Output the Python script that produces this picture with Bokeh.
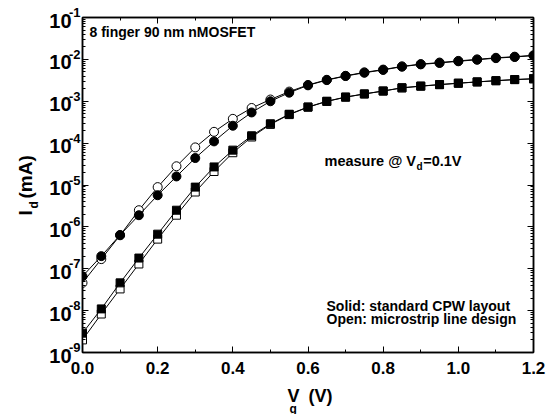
import numpy as np
from bokeh.plotting import figure
from bokeh.core.properties import value
from bokeh.models import (LinearAxis, LogAxis, FixedTicker, LogTicker, Label,
                          CustomJSTickFormatter, NumeralTickFormatter, ColumnDataSource)
from bokeh.embed import file_html
from bokeh.resources import INLINE

# ---------------- data ----------------
vg = [0.00, 0.05, 0.10, 0.15, 0.20, 0.25, 0.30, 0.35, 0.40, 0.45, 0.50, 0.55, 0.60,
      0.65, 0.70, 0.75, 0.80, 0.85, 0.90, 0.95, 1.00, 1.05, 1.10, 1.15, 1.20]

solid_circle = [6.6e-8, 2.0e-7, 6.4e-7, 1.9e-6, 5.7e-6, 1.6e-5, 4.4e-5, 1.1e-4, 2.6e-4,
                5.4e-4, 1.0e-3, 1.6e-3, 2.4e-3, 3.2e-3, 4.0e-3, 4.8e-3, 5.6e-3, 6.7e-3,
                7.6e-3, 8.2e-3, 9.0e-3, 9.8e-3, 1.07e-2, 1.14e-2, 1.23e-2]
open_circle = [4.6e-8, 1.7e-7, 6.3e-7, 2.5e-6, 8.9e-6, 2.8e-5, 7.9e-5, 1.86e-4, 3.8e-4,
               6.9e-4, 1.1e-3, 1.7e-3, 2.45e-3, 3.25e-3, 4.05e-3, 4.9e-3, 5.7e-3, 6.8e-3,
               7.7e-3, 8.4e-3, 9.2e-3, 1.0e-2, 1.09e-2, 1.16e-2, 1.25e-2]
solid_square = [2.9e-9, 1.1e-8, 4.6e-8, 1.8e-7, 6.7e-7, 2.5e-6, 8.9e-6, 2.7e-5, 6.8e-5,
                1.5e-4, 2.9e-4, 4.9e-4, 7.3e-4, 1.0e-3, 1.26e-3, 1.5e-3, 1.76e-3, 2.1e-3,
                2.3e-3, 2.5e-3, 2.7e-3, 2.9e-3, 3.1e-3, 3.3e-3, 3.45e-3]
open_square = [2.0e-9, 8.3e-9, 3.3e-8, 1.3e-7, 5.1e-7, 1.9e-6, 6.8e-6, 2.1e-5, 5.9e-5,
               1.4e-4, 2.8e-4, 4.8e-4, 7.2e-4, 9.9e-4, 1.25e-3, 1.49e-3, 1.75e-3, 2.08e-3,
               2.29e-3, 2.49e-3, 2.69e-3, 2.89e-3, 3.09e-3, 3.28e-3, 3.43e-3]

y_exponents = [-9, -8, -7, -6, -5, -4, -3, -2, -1]
x_tick_values = [0.0, 0.2, 0.4, 0.6, 0.8, 1.0, 1.2]
x_minor_values = [0.1, 0.3, 0.5, 0.7, 0.9, 1.1]

FONT = "Liberation Sans"

# ---------------- figure ----------------
p = figure(width=548, height=414, x_range=(0.0, 1.2), y_range=(1e-9, 1e-1),
           y_axis_type="log", output_backend="svg", toolbar_location=None,
           min_border_left=82, min_border_right=15, min_border_top=17,
           min_border_bottom=62, background_fill_color="white",
           border_fill_color="white")
p.grid.visible = False
p.outline_line_color = "black"
p.outline_line_width = 1.5

xt = FixedTicker(ticks=x_tick_values, minor_ticks=x_minor_values)
yt = LogTicker(mantissas=[1], num_minor_ticks=10)
empty = CustomJSTickFormatter(code="return ''")


def style_axis(ax):
    ax.axis_line_width = 1.5
    ax.axis_line_color = "black"
    ax.major_tick_in = 6
    ax.major_tick_out = 0
    ax.minor_tick_in = 3
    ax.minor_tick_out = 0
    ax.major_tick_line_width = 1
    ax.minor_tick_line_width = 1
    ax.major_tick_line_color = "black"
    ax.minor_tick_line_color = "black"
    ax.major_label_standoff = 0


xa = p.xaxis[0]
xa.ticker = xt
xa.formatter = NumeralTickFormatter(format="0.0")
style_axis(xa)
xa.major_label_text_font = FONT
xa.major_label_text_font_style = "bold"
xa.major_label_text_font_size = "17px"
xa.major_label_text_color = "black"
xa.major_label_standoff = 9

ya = p.yaxis[0]
ya.ticker = yt
ya.formatter = empty
style_axis(ya)

top = LinearAxis(ticker=xt, formatter=empty)
style_axis(top)
p.add_layout(top, "above")
right = LogAxis(ticker=yt, formatter=empty)
style_axis(right)
p.add_layout(right, "right")

# ---------------- series ----------------
src = ColumnDataSource(dict(vg=vg, sc=solid_circle, oc=open_circle,
                            ss=solid_square, os=open_square))

for col, marker, fill in [("os", "square", "white"), ("oc", "circle", "white"),
                          ("ss", "square", "black"), ("sc", "circle", "black")]:
    p.line("vg", col, source=src, line_color="black", line_width=1)
    size = 9 if marker == "circle" else 8
    p.scatter("vg", col, source=src, marker=marker, size=size,
              fill_color=fill, line_color="black", line_width=1)


def txt(text, x, y, dx, dy, size, align="left", angle=0.0):
    """Text glyph drawn at the overlay level; dx right, dy up (pixels)."""
    p.text(x=[x], y=[y], text=[text], x_offset=dx, y_offset=-dy, angle=angle,
           text_align=align, text_baseline="middle", text_font=value(FONT),
           text_font_style="bold", text_font_size=size, text_color="black",
           level="overlay")


# ---------------- y tick labels (10 with superscript) ----------------
for k in y_exponents:
    txt("10", 0.0, 10.0 ** k, -11, -3, "20px", align="right")
    txt(str(k), 0.0, 10.0 ** k, -2, 5, "13px", align="right")

# axis titles (anchored at the bottom-left corner of the frame)
txt("V", 0.0, 1e-9, 205, -43, "18px")
txt("g", 0.0, 1e-9, 207, -56, "12px")
txt("(V)", 0.0, 1e-9, 226, -43, "18px")

txt("I", 0.0, 1e-9, -57, 137, "19px", angle=np.pi / 2)
txt("d", 0.0, 1e-9, -49, 144, "12px", angle=np.pi / 2)
txt("(mA)", 0.0, 1e-9, -57, 154, "19px", angle=np.pi / 2)

# annotations inside the plot
lab_specs = [
    ("8 finger 90 nm nMOSFET", 7, 321, "14px", "left"),
    ("measure @ V", 242, 192, "14.5px", "left"),
    ("d", 334, 186, "10px", "left"),
    ("=0.1V", 379, 192, "14.5px", "right"),
    ("Solid: standard CPW layout", 244, 47, "14px", "left"),
    ("Open: microstrip line design", 244, 34, "14px", "left"),
]
for t, dx, dy, fs, al in lab_specs:
    p.add_layout(Label(x=0.0, y=1e-9, x_offset=dx, y_offset=dy, text=t,
                       text_align=al, text_baseline="middle", text_font=FONT,
                       text_font_style="bold", text_font_size=fs, text_color="black"))

open("out.html", "w").write(file_html(p, INLINE))
